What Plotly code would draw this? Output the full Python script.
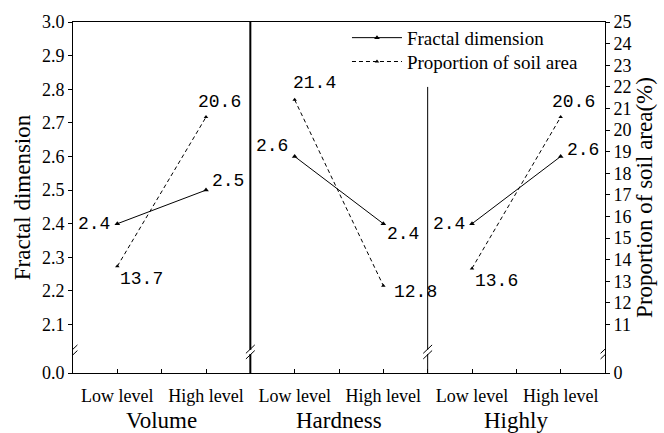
import plotly.graph_objects as go

# Factors and levels
groups = ["Volume", "Hardness", "Highly"]
levels = ["Low level", "High level"]

# Measured values per factor: (low, high)
fractal_dim = [[2.4, 2.5], [2.6, 2.4], [2.4, 2.6]]
soil_area = [[13.7, 20.6], [21.4, 12.8], [13.6, 20.6]]

# Axis ticks
left_ticks = [2.1, 2.2, 2.3, 2.4, 2.5, 2.6, 2.7, 2.8, 2.9, 3.0]
right_ticks = list(range(11, 26))
left_bottom, right_bottom = 1.956, 8.76   # broken-axis floor, labelled as zero

# Each factor occupies 2 x-units; levels sit at 0.5 and 1.5 inside it
def xpos(g, k):
    return 2 * g + 0.5 + k

SERIF = "Liberation Serif"
MONO = "Liberation Mono"

fig = go.Figure()

for g in range(len(groups)):
    xs = [xpos(g, k) for k in range(2)]
    fig.add_trace(go.Scatter(
        x=xs, y=fractal_dim[g], mode="lines+markers",
        line=dict(color="black", width=1),
        marker=dict(symbol="triangle-up", size=5, color="black"),
        name="Fractal dimension", showlegend=(g == 0), legend="legend",
    ))
    fig.add_trace(go.Scatter(
        x=xs, y=soil_area[g], mode="lines+markers", yaxis="y2",
        line=dict(color="black", width=1, dash="4px,3px"),
        marker=dict(symbol="triangle-up", size=4, color="black"),
        name="Proportion of soil area", showlegend=(g == 0), legend="legend2",
    ))

# Value labels: offsets (px) per point
fd_offsets = [[(-23, 0), (22, 9)], [(-23, 10), (20, -10)], [(-23, 0), (22, 6)]]
sa_offsets = [[(24, -13), (13, 15)], [(20, 17), (32, -6)], [(24, -13), (13, 15)]]
annotations = []
for g in range(len(groups)):
    for k in range(2):
        dx, dy = fd_offsets[g][k]
        annotations.append(dict(
            x=xpos(g, k), y=fractal_dim[g][k], xref="x", yref="y",
            text=f"{fractal_dim[g][k]:.1f}", showarrow=False,
            xshift=dx, yshift=dy, font=dict(family=MONO, size=18, color="black"),
        ))
        dx, dy = sa_offsets[g][k]
        annotations.append(dict(
            x=xpos(g, k), y=soil_area[g][k], xref="x", yref="y2",
            text=f"{soil_area[g][k]:.1f}", showarrow=False,
            xshift=dx, yshift=dy, font=dict(family=MONO, size=18, color="black"),
        ))

# Factor names under the level labels
for g, name in enumerate(groups):
    annotations.append(dict(
        x=2 * g + 1, y=0, xref="x", yref="paper", yanchor="top", yshift=-33,
        text=name, showarrow=False, font=dict(family=SERIF, size=23, color="black"),
    ))

# Dividers between factors (the second one stops below the legend)
shapes = [
    dict(type="line", xref="x", yref="paper", x0=2, x1=2, y0=0, y1=1,
         line=dict(color="black", width=2)),
    dict(type="line", xref="x", yref="paper", x0=4, x1=4, y0=0, y1=0.815,
         line=dict(color="black", width=1)),
]

# Break marks on axes and dividers
brk_y = 0.06
for xb in [0, 2, 4, 6]:
    shapes.append(dict(type="rect", xref="x", yref="paper",
                       x0=xb - 0.04, x1=xb + 0.04, y0=brk_y - 0.006, y1=brk_y + 0.006,
                       fillcolor="white", line=dict(width=0)))
    for off in (-0.008, 0.008):
        shapes.append(dict(type="line", xref="x", yref="paper",
                           x0=xb - 0.05, x1=xb + 0.05,
                           y0=brk_y + off - 0.012, y1=brk_y + off + 0.012,
                           line=dict(color="black", width=1)))

legend_common = dict(x=0.515, xanchor="left", yanchor="middle",
                     bgcolor="rgba(0,0,0,0)", borderwidth=0, itemwidth=50,
                     font=dict(family=SERIF, size=19, color="black"))

fig.update_layout(
    width=664, height=433,
    margin=dict(l=73, r=59, t=22, b=60),
    paper_bgcolor="white", plot_bgcolor="white",
    font=dict(family=SERIF, size=18, color="black"),
    showlegend=True,
    legend=dict(y=0.955, **legend_common),
    legend2=dict(y=0.887, **legend_common),
    xaxis=dict(
        range=[0, 6], showgrid=False, zeroline=False,
        showline=True, linecolor="black", linewidth=1, mirror=True,
        tickvals=[0.5 * i for i in range(1, 12)],
        ticktext=[levels[(i - 1) // 2 % 2] if i % 2 == 1 else "" for i in range(1, 12)],
        ticks="inside", ticklen=4, tickcolor="black", ticklabelstandoff=6,
        tickfont=dict(family=SERIF, size=18),
    ),
    yaxis=dict(
        range=[left_bottom, 3.0], showgrid=False, zeroline=False,
        showline=True, linecolor="black", linewidth=1,
        tickvals=[left_bottom] + left_ticks,
        ticktext=["0.0"] + [f"{v:.1f}" for v in left_ticks],
        ticks="outside", ticklen=4, tickcolor="black",
        tickfont=dict(family=SERIF, size=18),
        title=dict(text="Fractal dimension", font=dict(family=SERIF, size=23), standoff=4),
    ),
    yaxis2=dict(
        range=[right_bottom, 25], overlaying="y", side="right",
        showgrid=False, zeroline=False,
        showline=True, linecolor="black", linewidth=1,
        tickvals=[right_bottom] + right_ticks,
        ticktext=["0"] + [str(v) for v in right_ticks],
        ticks="outside", ticklen=4, tickcolor="black",
        tickfont=dict(family=SERIF, size=18),
        title=dict(text="Proportion of soil area(%)", font=dict(family=SERIF, size=23), standoff=4),
    ),
    annotations=annotations,
    shapes=shapes,
)

fig.write_html("out.html")
